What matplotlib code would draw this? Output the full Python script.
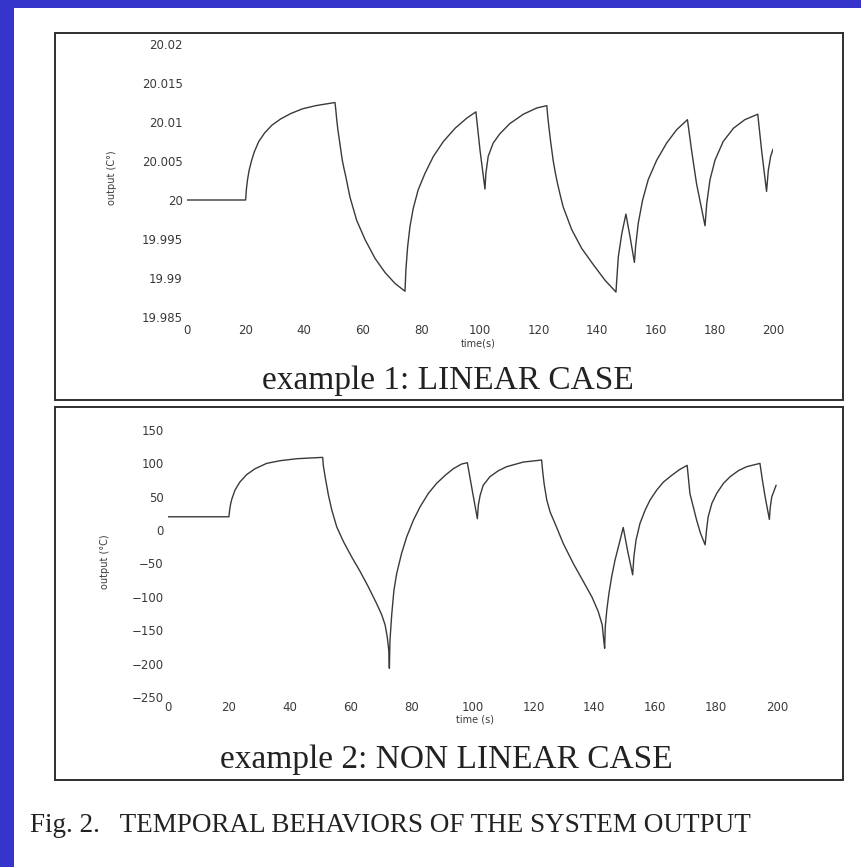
import matplotlib
matplotlib.use("Agg")
import matplotlib.pyplot as plt
from matplotlib.patches import Rectangle

# ---- example 1: linear case (time in s, output in C) ----
t_lin = [0, 20, 20.3, 20.7, 21.2, 22.0, 23.0, 24.5, 26.5, 29.0, 32.0, 35.5, 39.5, 44.0, 50.5,
         50.8, 51.1, 51.5, 52.0, 52.5, 53.0, 53.6, 54.2, 55.6, 57.9, 60.8, 64.2, 67.6,
         71.0, 74.4,
         74.7, 75.3, 76.1, 77.2, 78.9, 81.2, 84.1, 87.5, 91.5, 95.5, 98.6,
         100.0, 101.7,
         102.0, 102.8, 104.5, 106.8, 110.2, 114.8, 119.4, 122.8,
         123.1, 123.5, 124.1, 125.0, 125.7, 126.4, 127.4, 128.4, 131.3, 134.7, 138.7,
         142.7, 146.4,
         147.2, 148.4, 149.8, 151.2, 152.7,
         153.1, 154.0, 155.5, 157.4, 160.3, 163.7, 167.1, 170.8,
         172.2, 173.9, 176.8,
         177.4, 178.5, 180.2, 183.0, 186.5, 190.4, 194.8,
         196.1, 197.8,
         198.4, 199.2, 200.0]
y_lin = [20.0, 20.0, 20.0015, 20.0027, 20.0038, 20.0050, 20.0062, 20.0075, 20.0086,
         20.0096, 20.0104, 20.0111, 20.0117, 20.0121, 20.0125,
         20.0115, 20.0103, 20.0090, 20.0077, 20.0064, 20.0051, 20.0040, 20.0030,
         20.0004, 19.9974, 19.9949, 19.9925, 19.9907, 19.9893, 19.9883,
         19.9910, 19.9940, 19.9966, 19.9989, 20.0013, 20.0034, 20.0056, 20.0075,
         20.0092, 20.0105, 20.0113,
         20.0064, 20.0014,
         20.0034, 20.0056, 20.0073, 20.0085, 20.0098, 20.0110, 20.0118, 20.0121,
         20.0108, 20.0094, 20.0075, 20.0050, 20.0035, 20.0022, 20.0006, 19.9991,
         19.9962, 19.9938, 19.9917, 19.9897, 19.9882,
         19.9927, 19.9957, 19.9982, 19.9953, 19.9920,
         19.9940, 19.9970, 20.0000, 20.0026, 20.0051, 20.0073, 20.0090, 20.0103,
         20.0064, 20.0021, 19.9967,
         19.9996, 20.0026, 20.0051, 20.0075, 20.0092, 20.0103, 20.0110,
         20.0064, 20.0011,
         20.0038, 20.0056, 20.0065]

# ---- example 2: non linear case (time in s, output in deg C) ----
t_nl = [0, 20.0, 20.3, 20.6, 21.0, 22.0, 23.6, 25.8, 28.6, 32.4, 36.8, 42.3, 46.6, 50.8,
        51.0, 51.6, 52.7, 53.8, 55.4, 57.6, 60.3, 63.1, 65.8, 68.5, 70.2, 71.3,
        72.0, 72.5, 72.7,
        72.9, 73.5, 74.2, 75.1, 76.7, 78.4, 80.6, 82.8, 85.5, 88.2, 91.0, 93.7,
        96.4, 98.3,
        99.9, 101.6,
        101.9, 102.5, 103.5, 105.7, 108.5, 111.2, 116.7, 122.7,
        123.0, 123.5, 124.4, 125.5, 127.1, 129.8, 133.1, 136.4, 139.2, 141.3,
        142.6, 143.1, 143.4,
        143.6, 144.1, 144.8, 145.7, 146.8, 148.2, 149.5,
        150.9, 152.6,
        153.0, 153.7, 155.0, 156.7, 158.3, 160.5, 162.7, 165.4, 168.1, 170.5,
        171.4, 172.5, 173.6, 174.9, 176.4,
        176.9, 177.4, 178.6, 180.2, 182.4, 184.6, 187.3, 190.0, 194.4,
        195.2, 196.1, 197.5,
        197.8, 198.3, 199.7]
y_nl = [20, 20, 32, 40, 47, 60, 72, 83, 92, 100, 104, 107, 108, 109,
        97, 80, 52, 30, 5, -17, -40, -62, -85, -110, -127, -142,
        -160, -180, -207,
        -165, -125, -90, -65, -35, -10, 15, 35, 55, 70, 82, 92,
        99, 101,
        60, 17,
        37, 52, 67, 80, 89, 95, 102, 105,
        90, 70, 45, 27, 10, -20, -50, -77, -100, -122,
        -142, -165, -177,
        -145, -120, -95, -70, -45, -20, 4,
        -30, -67,
        -40, -15, 10, 30, 45, 60, 72, 82, 91, 97,
        55, 35, 15, -5, -22,
        2, 20, 40, 55, 70, 80, 89, 95, 100,
        75, 50, 16,
        35, 50, 67]

x_ticks = [0, 20, 40, 60, 80, 100, 120, 140, 160, 180, 200]
y_ticks_lin = [19.985, 19.99, 19.995, 20.0, 20.005, 20.01, 20.015, 20.02]
y_labels_lin = ["19.985", "19.99", "19.995", "20", "20.005", "20.01", "20.015", "20.02"]
y_ticks_nl = [-250, -200, -150, -100, -50, 0, 50, 100, 150]
y_labels_nl = ["\u2212250", "\u2212200", "\u2212150", "\u2212100", "\u221250",
               "0", "50", "100", "150"]

W, H = 862, 867
fig = plt.figure(figsize=(W / 100, H / 100), dpi=100)
fig.patch.set_facecolor("#3535cc")

def fx(px):
    return px / W

def fy(py):
    return 1 - py / H

# white page, kept underneath the axes
fig.patches.append(Rectangle((fx(14), 0), 1 - fx(14), fy(8), transform=fig.transFigure,
                             facecolor="white", edgecolor="none", zorder=-10))
# panel frames
for top, bot in [(33, 400), (407, 780)]:
    fig.patches.append(Rectangle((fx(55), fy(bot)), fx(843) - fx(55), fy(top) - fy(bot),
                                 transform=fig.transFigure, facecolor="none",
                                 edgecolor="#2e2e2e", linewidth=1.4, zorder=-5))

ink = "#3a3a3a"
tick_font = dict(family="DejaVu Sans", size=8.5, color=ink)

def style(ax, yt, yl, ylim, xpad, ypad):
    ax.set_xlim(0, 200)
    ax.set_ylim(*ylim)
    ax.set_xticks(x_ticks)
    ax.set_xticklabels([str(v) for v in x_ticks], **tick_font)
    ax.set_yticks(yt)
    ax.set_yticklabels(yl, **tick_font)
    ax.tick_params(length=0)
    ax.tick_params(axis="x", pad=xpad)
    ax.tick_params(axis="y", pad=ypad)
    for s in ax.spines.values():
        s.set_visible(False)
    ax.patch.set_alpha(0)

ax1 = fig.add_axes([fx(187), fy(317), fx(773) - fx(187), fy(44) - fy(317)])
ax1.plot(t_lin, y_lin, color=ink, linewidth=1.0)
style(ax1, y_ticks_lin, y_labels_lin, (19.985, 20.02), 5, 3)

ax2 = fig.add_axes([fx(168), fy(697), fx(777) - fx(168), fy(430) - fy(697)])
ax2.plot(t_nl, y_nl, color=ink, linewidth=1.0)
style(ax2, y_ticks_nl, y_labels_nl, (-250, 150), 3, 3)

small = dict(family="DejaVu Sans", size=7, color=ink, ha="center", va="center")
fig.text(fx(478), fy(343), "time(s)", **small)
fig.text(fx(475), fy(719), "time (s)", **small)
fig.text(fx(112), fy(178), "output (C\u00b0)", rotation=90, **small)
fig.text(fx(105), fy(562), "output (\u00b0C)", rotation=90, **small)

serif = dict(family="Liberation Serif", color="#222222", ha="center", va="center")
fig.text(fx(448), fy(381), "example 1: LINEAR CASE", size=24, **serif)
fig.text(fx(446), fy(760), "example 2: NON LINEAR CASE", size=24, **serif)

fig.text(fx(30), fy(826), "Fig. 2.   TEMPORAL BEHAVIORS OF THE SYSTEM OUTPUT",
         family="Liberation Serif", size=19.5, color="#222222", ha="left", va="center")

fig.savefig("out.png", dpi=100, facecolor=fig.get_facecolor())
